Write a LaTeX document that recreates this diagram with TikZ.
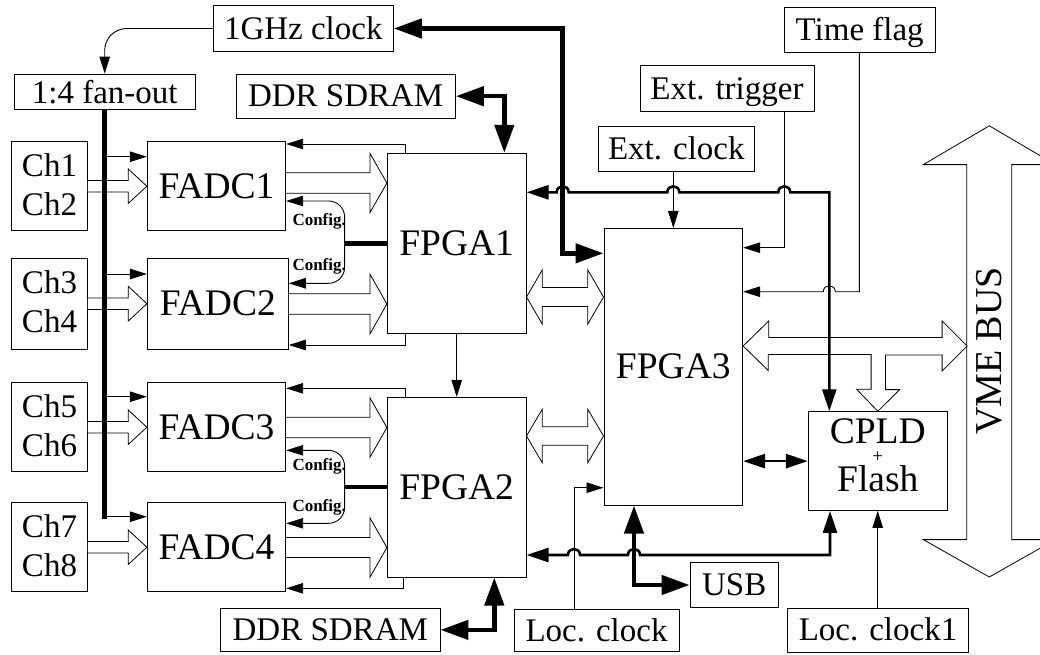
\documentclass[tikz,border=0pt]{standalone}
\usepackage{fontspec}
\setmainfont{Liberation Serif}
\usetikzlibrary{arrows.meta,calc}

% horizontal hollow arrow pointing right: #1 tail, #2 tip, #3 shaft half, #4 head half, #5 head length
\newcommand\fatR[5]{%
  \draw[hollow] let \p1=(#1), \p2=(#2) in
   (\x1,\y2+#3pt) -- (\x2-#5pt,\y2+#3pt) -- (\x2-#5pt,\y2+#4pt) -- (\x2,\y2)
   -- (\x2-#5pt,\y2-#4pt) -- (\x2-#5pt,\y2-#3pt) -- (\x1,\y2-#3pt);}
% horizontal hollow double arrow
\newcommand\fatLR[5]{%
  \draw[hollow] let \p1=(#1), \p2=(#2) in
   (\x1,\y1) -- (\x1+#5pt,\y1+#4pt) -- (\x1+#5pt,\y1+#3pt) -- (\x2-#5pt,\y1+#3pt)
   -- (\x2-#5pt,\y1+#4pt) -- (\x2,\y1) -- (\x2-#5pt,\y1-#4pt) -- (\x2-#5pt,\y1-#3pt)
   -- (\x1+#5pt,\y1-#3pt) -- (\x1+#5pt,\y1-#4pt) -- cycle;}
% line hops (bump upwards)
\newcommand\hopR[2]{-- ({#1-6},#2) .. controls ({#1-6},{#2-8}) and ({#1+6},{#2-8}) .. ({#1+6},#2)}
\newcommand\hopL[2]{-- ({#1+6},#2) .. controls ({#1+6},{#2-8}) and ({#1-6},{#2-8}) .. ({#1-6},#2)}

\begin{document}
\begin{tikzpicture}[x=1pt,y=-1pt,
  lbl/.style={draw, line width=0.9pt, inner sep=0pt, font=\fontsize{33}{39}\selectfont, text height=23.8pt, text depth=2.6pt},
  bigbox/.style={lbl, font=\fontsize{37.5}{40}\selectfont, text height=27pt, text depth=3pt},
  chbox/.style={draw, line width=0.9pt, inner sep=0pt, align=center, font=\fontsize{33}{39.3}\selectfont},
  hollow/.style={draw, line width=0.8pt, fill=white, line join=miter},
  thinl/.style={line width=0.9pt},
  medl/.style={line width=2.6pt},
  thkl/.style={line width=4.5pt},
  cfg/.style={inner sep=0pt, font=\fontsize{17}{17}\selectfont\bfseries},
  ta/.tip={Triangle[length=17pt,width=10.5pt]},
  tm/.tip={Triangle[length=22pt,width=14pt]},
  tk/.tip={Triangle[length=28pt,width=19pt]},
]
\useasboundingbox (0,0) rectangle (1040,654);
\clip (0,0) rectangle (1040,654);

% ---------- nodes ----------
\node[lbl, minimum width=180, minimum height=45.3] (clk1g) at (303.3,28.5) {1GHz clock};
\node[lbl, minimum width=180.7, minimum height=35.3, text depth=-4pt] (fanout) at (104.7,91.7) {1:4 fan-out};
\node[lbl, minimum width=219.3, minimum height=44.3] (ddr1) at (345.7,96.2) {DDR SDRAM};
\node[lbl, minimum width=174, minimum height=45.4] (exttrig) at (727,88.6) {Ext. trigger};
\node[lbl, minimum width=156, minimum height=45.7] (extclk) at (676.3,148.8) {Ext. clock};
\node[lbl, minimum width=150.7, minimum height=45] (timeflag) at (859.7,29.5) {Time flag};
\node[lbl, minimum width=88.3, minimum height=44.6] (usb) at (734.2,585) {USB};
\node[lbl, minimum width=165, minimum height=42.2] (locclk) at (596.5,630.4) {Loc. clock};
\node[lbl, minimum width=219.3, minimum height=43.2] (ddr2) at (330.3,629.9) {DDR SDRAM};
\node[lbl, minimum width=180.6, minimum height=44] (locclk1) at (878,630) {Loc. clock1};

\node[chbox, minimum width=75.6, minimum height=89] (ch12) at (49.5,186.2) {Ch1\\Ch2\rule[-4pt]{0pt}{0pt}};
\node[chbox, minimum width=75.6, minimum height=90.7] (ch34) at (49.5,303.7) {Ch3\\Ch4\rule[-4pt]{0pt}{0pt}};
\node[chbox, minimum width=75.6, minimum height=89] (ch56) at (49.5,427.2) {Ch5\\Ch6\rule[-4pt]{0pt}{0pt}};
\node[chbox, minimum width=75.6, minimum height=89] (ch78) at (49.5,547.2) {Ch7\\Ch8\rule[-4pt]{0pt}{0pt}};

\node[bigbox, minimum width=138.4, minimum height=89] (fadc1) at (216.5,186.2) {FADC1};
\node[bigbox, minimum width=141, minimum height=90.7] (fadc2) at (217.8,303.7) {FADC2};
\node[bigbox, minimum width=138.4, minimum height=89] (fadc3) at (216.5,427.2) {FADC3};
\node[bigbox, minimum width=138.4, minimum height=89] (fadc4) at (216.5,547.2) {FADC4};
\node[bigbox, minimum width=138.7, minimum height=180] (fpga1) at (456.7,243.3) {FPGA1};
\node[bigbox, minimum width=138.7, minimum height=179.7] (fpga2) at (456.7,487.2) {FPGA2};
\node[bigbox, minimum width=138.7, minimum height=276.7] (fpga3) at (673.3,366.7) {FPGA3};
\node[draw, line width=0.9pt, inner sep=0pt, align=center, font=\fontsize{37.5}{48}\selectfont,
      minimum width=139, minimum height=98.8] (cpld) at (877.8,461.1)
  {CPLD\\\ooalign{Flash\cr\hidewidth\smash{\raisebox{29.4pt}{\fontsize{19}{19}\selectfont+}}\hidewidth\cr}\rule[-12pt]{0pt}{0pt}};

% ---------- VME bus ----------
\draw[hollow] (989.3,125.8) -- (1055.3,164.6) -- (1011.7,164.6) -- (1011.7,539.6) -- (1055.3,539.6)
  -- (989.3,577) -- (923.3,539.6) -- (966.7,539.6) -- (966.7,164.6) -- (923.3,164.6) -- cycle;
\node[font=\fontsize{38}{38}\selectfont, rotate=90, inner sep=0pt, text height=25pt, text depth=0pt] (vme) at (988.6,351) {VME BUS};
% FPGA3 <-> VME bus with branch into CPLD
\draw[hollow] (fpga3.east |- 0,346) -- ++(25.6,-25) -- ++(0,16.5) -- ++(173.4,0) -- ++(0,-16.5)
  -- ++(25,25) -- ++(-25,25) -- ++(0,-16) -- ++(-56.7,0) -- ++(0,34.6) -- ++(14.3,0)
  -- (cpld.north) -- ++(-21.3,-22.1) -- ++(14.6,0) -- ++(0,-34.6) -- ++(-102.8,0) -- ++(0,16) -- cycle;

% ---------- hollow data arrows ----------
\fatR{ch12.east}{fadc1.west}{5.8}{17.3}{18.7}
\fatR{ch34.east}{fadc2.west}{5.8}{17.5}{18.7}
\fatR{ch56.east}{fadc3.west}{5.8}{17.3}{18.7}
\fatR{ch78.east}{fadc4.west}{5.8}{17.3}{18.7}
\fatR{fadc1.east}{fpga1.west |- 0,183}{10.3}{29.7}{17}
\fatR{fadc2.east}{fpga1.west |- 0,304}{10.3}{30}{17}
\fatR{fadc3.east}{fpga2.west |- 0,427.5}{10.3}{29.8}{17}
\fatR{fadc4.east}{fpga2.west |- 0,547.5}{10}{29.8}{17}
\fatLR{fpga1.east |- 0,297}{fpga3.west |- 0,297}{9.5}{27}{15.7}
\fatLR{fpga2.east |- 0,436}{fpga3.west |- 0,436}{9.2}{26.7}{15.7}

% ---------- clock distribution ----------
\draw[thinl, -ta, rounded corners=22] (clk1g.west) -| (fanout.north);
\foreach \n/\yy in {fadc1/156.7, fadc2/274, fadc3/396.7, fadc4/516.7}
  \draw[thinl, -ta] (fanout.south |- 0,\yy) -- (\n.west |- 0,\yy);
\draw[thkl] (fanout.south) -- (fanout.south |- 0,518.5);

% ---------- FPGA -> FADC ----------
\draw[thinl, -ta] (fpga1.north -| 405.7,0) |- (fadc1.east |- 0,144);
\draw[thinl, -ta] (fpga1.south -| 405.7,0) |- (fadc2.east |- 0,345);
\draw[thinl, -ta] (fpga2.north -| 405.7,0) |- (fadc3.east |- 0,388.3);
\draw[thinl, -ta] (fpga2.south -| 403.3,0) |- (fadc4.east |- 0,588.3);
\draw[thinl, -ta] (fpga1.south) -- (fpga2.north);

% ---------- config ----------
\draw[thkl] (fpga1.west) -- ++(-42.3,0) coordinate (cf1);
\draw[thinl, -ta, rounded corners=16] (cf1) |- (fadc1.east |- 0,201);
\draw[thinl, -ta, rounded corners=16] (cf1) |- (fadc2.east |- 0,283.3);
\draw[thkl] (fpga2.west) -- ++(-42.3,0) coordinate (cf2);
\draw[thinl, -ta, rounded corners=16] (cf2) |- (fadc3.east |- 0,450.3);
\draw[thinl, -ta, rounded corners=16] (cf2) |- (fadc4.east |- 0,523.3);
\node[cfg, anchor=base west] (cfg1) at (292.3,225) {Config.};
\node[cfg, anchor=base west] (cfg2) at (292.3,270) {Config.};
\node[cfg, anchor=base west] (cfg3) at (292.3,470) {Config.};
\node[cfg, anchor=base west] (cfg4) at (292.3,511.7) {Config.};

% ---------- memories and clocks (thick) ----------
\draw[thkl, tk-tk] (ddr1.east) -| (fpga1.north -| 504.3,0);
\draw[thkl, tk-tk] (ddr2.east) -| (fpga2.south -| 494.3,0);
\draw[thkl, tk-tk] (clk1g.east) -| (562.7,253.3) -- (fpga3.west |- 0,253.3);
\draw[thkl, tk-tk] (fpga3.south -| 634,0) |- (usb.west);

% ---------- thin control inputs ----------
\draw[thinl, -ta] (fpga3.north |- extclk.south) -- (fpga3.north);
\draw[thinl, -ta] (exttrig.south -| 784.3,0) |- (fpga3.east |- 0,247.7);
\draw[thinl, -ta] (timeflag.south -| 859.3,0) -- (859.3,291.7) \hopL{829.3}{291.7} -- (fpga3.east |- 0,291.7);
\draw[thinl, -ta] (locclk.north -| 574,0) |- (fpga3.west |- 0,487.7);
\draw[thinl, -ta] (locclk1.north -| 877.7,0) -- (cpld.south -| 877.7,0);

% ---------- medium buses ----------
\draw[medl, tm-tm] (fpga1.east |- 0,192.3) \hopR{562.7}{192.3} \hopR{673.3}{192.3} \hopR{784.3}{192.3}
  -- (829.3,192.3) -- (cpld.north -| 829.3,0);
\draw[medl, tm-tm] (fpga2.east |- 0,555) \hopR{574}{555} \hopR{634}{555}
  -- (830,555) -- (cpld.south -| 830,0);
\draw[medl, tm-tm] (fpga3.east |- cpld.west) -- (cpld.west);
\end{tikzpicture}
\end{document}
